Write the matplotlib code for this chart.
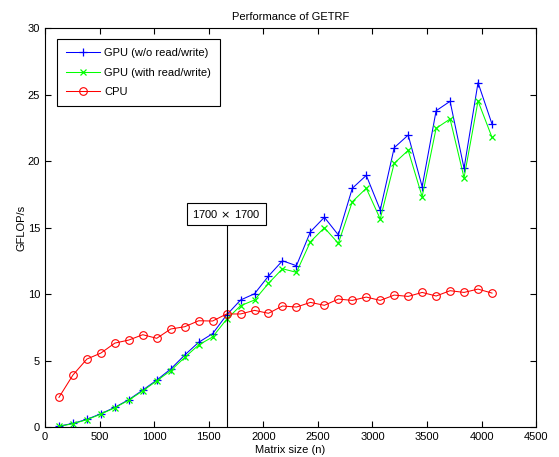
import matplotlib
matplotlib.use("Agg")
import matplotlib.pyplot as plt
import numpy as np

plt.rcParams["font.family"] = ["Liberation Sans", "DejaVu Sans"]
plt.rcParams["font.size"] = 8

## Data
sizes = [128 * k for k in range(1, 33)]

gpu_no_rw = [0.07, 0.27, 0.58, 1.00, 1.48, 2.06, 2.78, 3.53, 4.36, 5.41,
             6.37, 7.02, 8.42, 9.55, 10.02, 11.35, 12.50, 12.13, 14.68, 15.77,
             14.44, 17.95, 18.92, 16.32, 21.00, 21.95, 18.07, 23.78, 24.49, 19.45,
             25.89, 22.78]
gpu_rw = [0.05, 0.25, 0.55, 0.97, 1.45, 2.02, 2.72, 3.47, 4.24, 5.23,
          6.17, 6.77, 8.10, 9.12, 9.55, 10.80, 11.90, 11.63, 13.93, 14.98,
          13.81, 16.94, 17.95, 15.64, 19.83, 20.80, 17.32, 22.46, 23.16, 18.74,
          24.51, 21.78]
cpu = [2.23, 3.91, 5.11, 5.56, 6.31, 6.54, 6.94, 6.67, 7.37, 7.54,
       7.99, 7.97, 8.50, 8.50, 8.77, 8.55, 9.10, 9.02, 9.37, 9.15,
       9.62, 9.52, 9.77, 9.52, 9.92, 9.82, 10.12, 9.85, 10.25, 10.12,
       10.37, 10.07]

marker_n = 1664
marker_label = "1700$\\,\\times\\,$1700"


def main():
    fig = plt.figure(figsize=(5.59, 4.57), dpi=100)
    ax = fig.add_axes([0.0805, 0.0656, 0.8785, 0.8731])

    ax.plot(sizes, gpu_no_rw, color="#0000ff", marker="+", markersize=5.5,
            markeredgewidth=0.9, linewidth=0.75, label="GPU (w/o read/write)")
    ax.plot(sizes, gpu_rw, color="#00ff00", marker="x", markersize=4,
            markeredgewidth=0.9, linewidth=0.75, label="GPU (with read/write)")
    ax.plot(sizes, cpu, color="#ff0000", marker="o", markersize=5.5,
            markerfacecolor="none", markeredgewidth=0.8, linewidth=0.75,
            label="CPU")

    ## Annotation line + box
    ax.plot([marker_n, marker_n], [0, 15.25], color="black", linewidth=0.8)
    ax.text(marker_n, 16.0, marker_label, ha="center", va="center",
            fontsize=8,
            bbox=dict(boxstyle="square,pad=0.45", fc="white", ec="black", lw=0.8))

    ax.set_xlim(0, 4500)
    ax.set_ylim(0, 30)
    ax.set_xticks(np.arange(0, 4501, 500))
    ax.set_yticks(np.arange(0, 31, 5))
    ax.tick_params(direction="in", top=True, right=True, length=4, width=0.8)
    for s in ax.spines.values():
        s.set_linewidth(0.8)

    ax.set_xlabel("Matrix size (n)", labelpad=2)
    ax.set_ylabel("GFLOP/s", labelpad=1)
    ax.set_title("Performance of GETRF", fontsize=8, pad=6)

    leg = ax.legend(loc="upper left", bbox_to_anchor=(0.0244, 0.972),
                    fancybox=False, framealpha=1, edgecolor="black",
                    borderpad=0.8, labelspacing=0.85, handlelength=3.05,
                    handletextpad=0.4, borderaxespad=0)
    leg.get_frame().set_linewidth(0.8)

    fig.savefig("out.png", dpi=100)
    return 0


if __name__ == "__main__":
    main()
